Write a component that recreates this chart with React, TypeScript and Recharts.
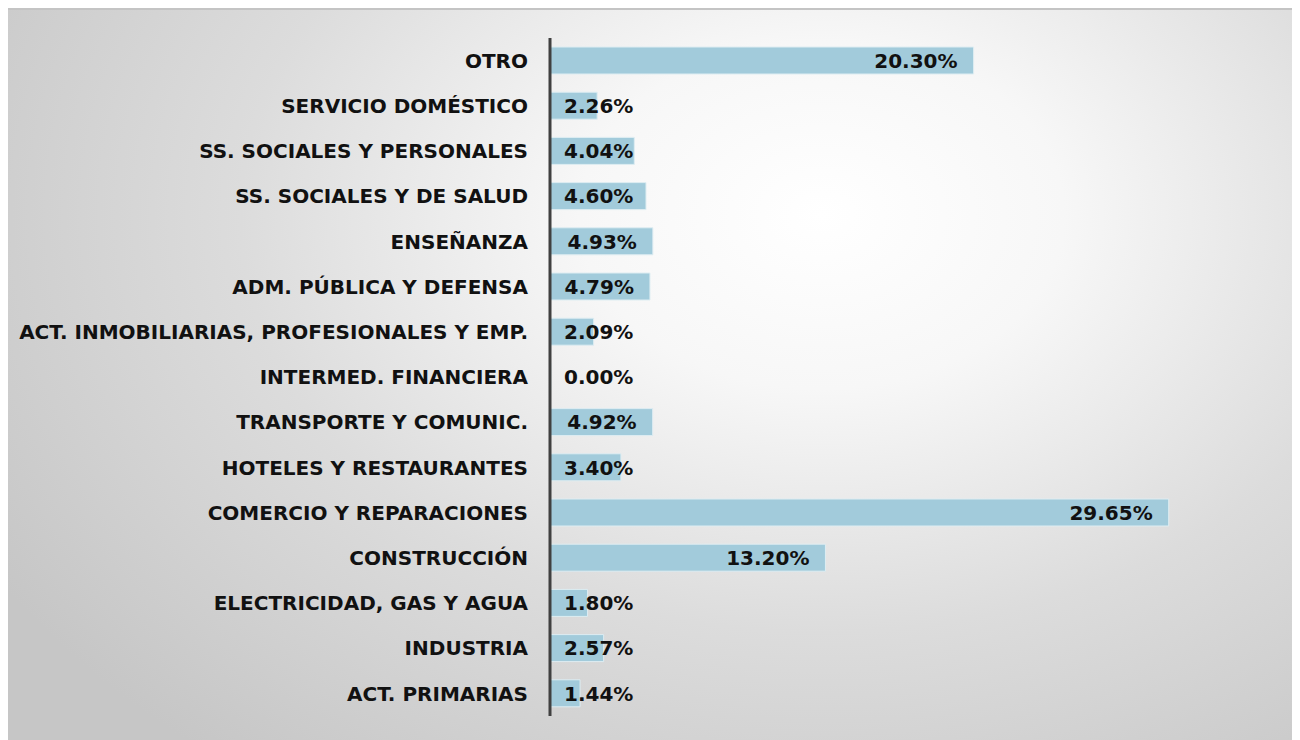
import { Bar, BarChart, LabelList, XAxis, YAxis } from "recharts";

const sectores = [
  "OTRO",
  "SERVICIO DOMÉSTICO",
  "SS. SOCIALES Y PERSONALES",
  "SS. SOCIALES Y DE SALUD",
  "ENSEÑANZA",
  "ADM. PÚBLICA Y DEFENSA",
  "ACT. INMOBILIARIAS, PROFESIONALES Y EMP.",
  "INTERMED. FINANCIERA",
  "TRANSPORTE Y COMUNIC.",
  "HOTELES Y RESTAURANTES",
  "COMERCIO Y REPARACIONES",
  "CONSTRUCCIÓN",
  "ELECTRICIDAD, GAS Y AGUA",
  "INDUSTRIA",
  "ACT. PRIMARIAS",
];

const porcentajes = [
  20.3, 2.26, 4.04, 4.6, 4.93, 4.79, 2.09, 0.0, 4.92, 3.4, 29.65, 13.2, 1.8,
  2.57, 1.44,
];

const dados = sectores.map((s, i) => ({ sector: s, valor: porcentajes[i] }));

const fonte = "'DejaVu Sans', Verdana, sans-serif";

// etiqueta "inside end" al estilo Excel: si no cabe, se pega a la base
function EtiquetaValor(props: any) {
  const { x, y, width, height, value } = props;
  const txt = `${Number(value).toFixed(2)}%`;
  const anchoTxt = txt.length * 13.6;
  const cabe = width - 16 - anchoTxt >= 14;
  return (
    <text
      x={cabe ? x + width - 16 : x + 14}
      y={y + height / 2}
      dy="0.36em"
      textAnchor={cabe ? "end" : "start"}
      fontFamily={fonte}
      fontWeight="bold"
      fontSize={20}
      fill="#111"
    >
      {txt}
    </text>
  );
}

export default function App() {
  return (
    <div
      style={{
        width: 1292,
        height: 732,
        borderTop: "2px solid #c4c4c4",
        background:
          "radial-gradient(ellipse 75% 95% at 63% 28%, #ffffff 0%, #f7f7f7 25%, #dcdcdc 60%, #c6c6c6 100%)",
      }}
    >
      <BarChart
        width={1292}
        height={730}
        data={dados}
        layout="vertical"
        margin={{ top: 28, right: 124, bottom: 24, left: 1 }}
        barSize={27}
      >
        <XAxis type="number" domain={[0, 30]} hide />
        <YAxis
          type="category"
          dataKey="sector"
          width={541}
          axisLine={{ stroke: "#404040", strokeWidth: 3 }}
          tickLine={false}
          tickMargin={16}
          interval={0}
          tick={{
            fill: "#111",
            fontSize: 20,
            fontWeight: "bold",
            fontFamily: fonte,
          }}
        />
        <Bar
          dataKey="valor"
          fill="#a2cbdb"
          stroke="#deedf2"
          strokeWidth={1}
          minPointSize={1}
          isAnimationActive={false}
        >
          <LabelList dataKey="valor" content={EtiquetaValor} />
        </Bar>
      </BarChart>
    </div>
  );
}
